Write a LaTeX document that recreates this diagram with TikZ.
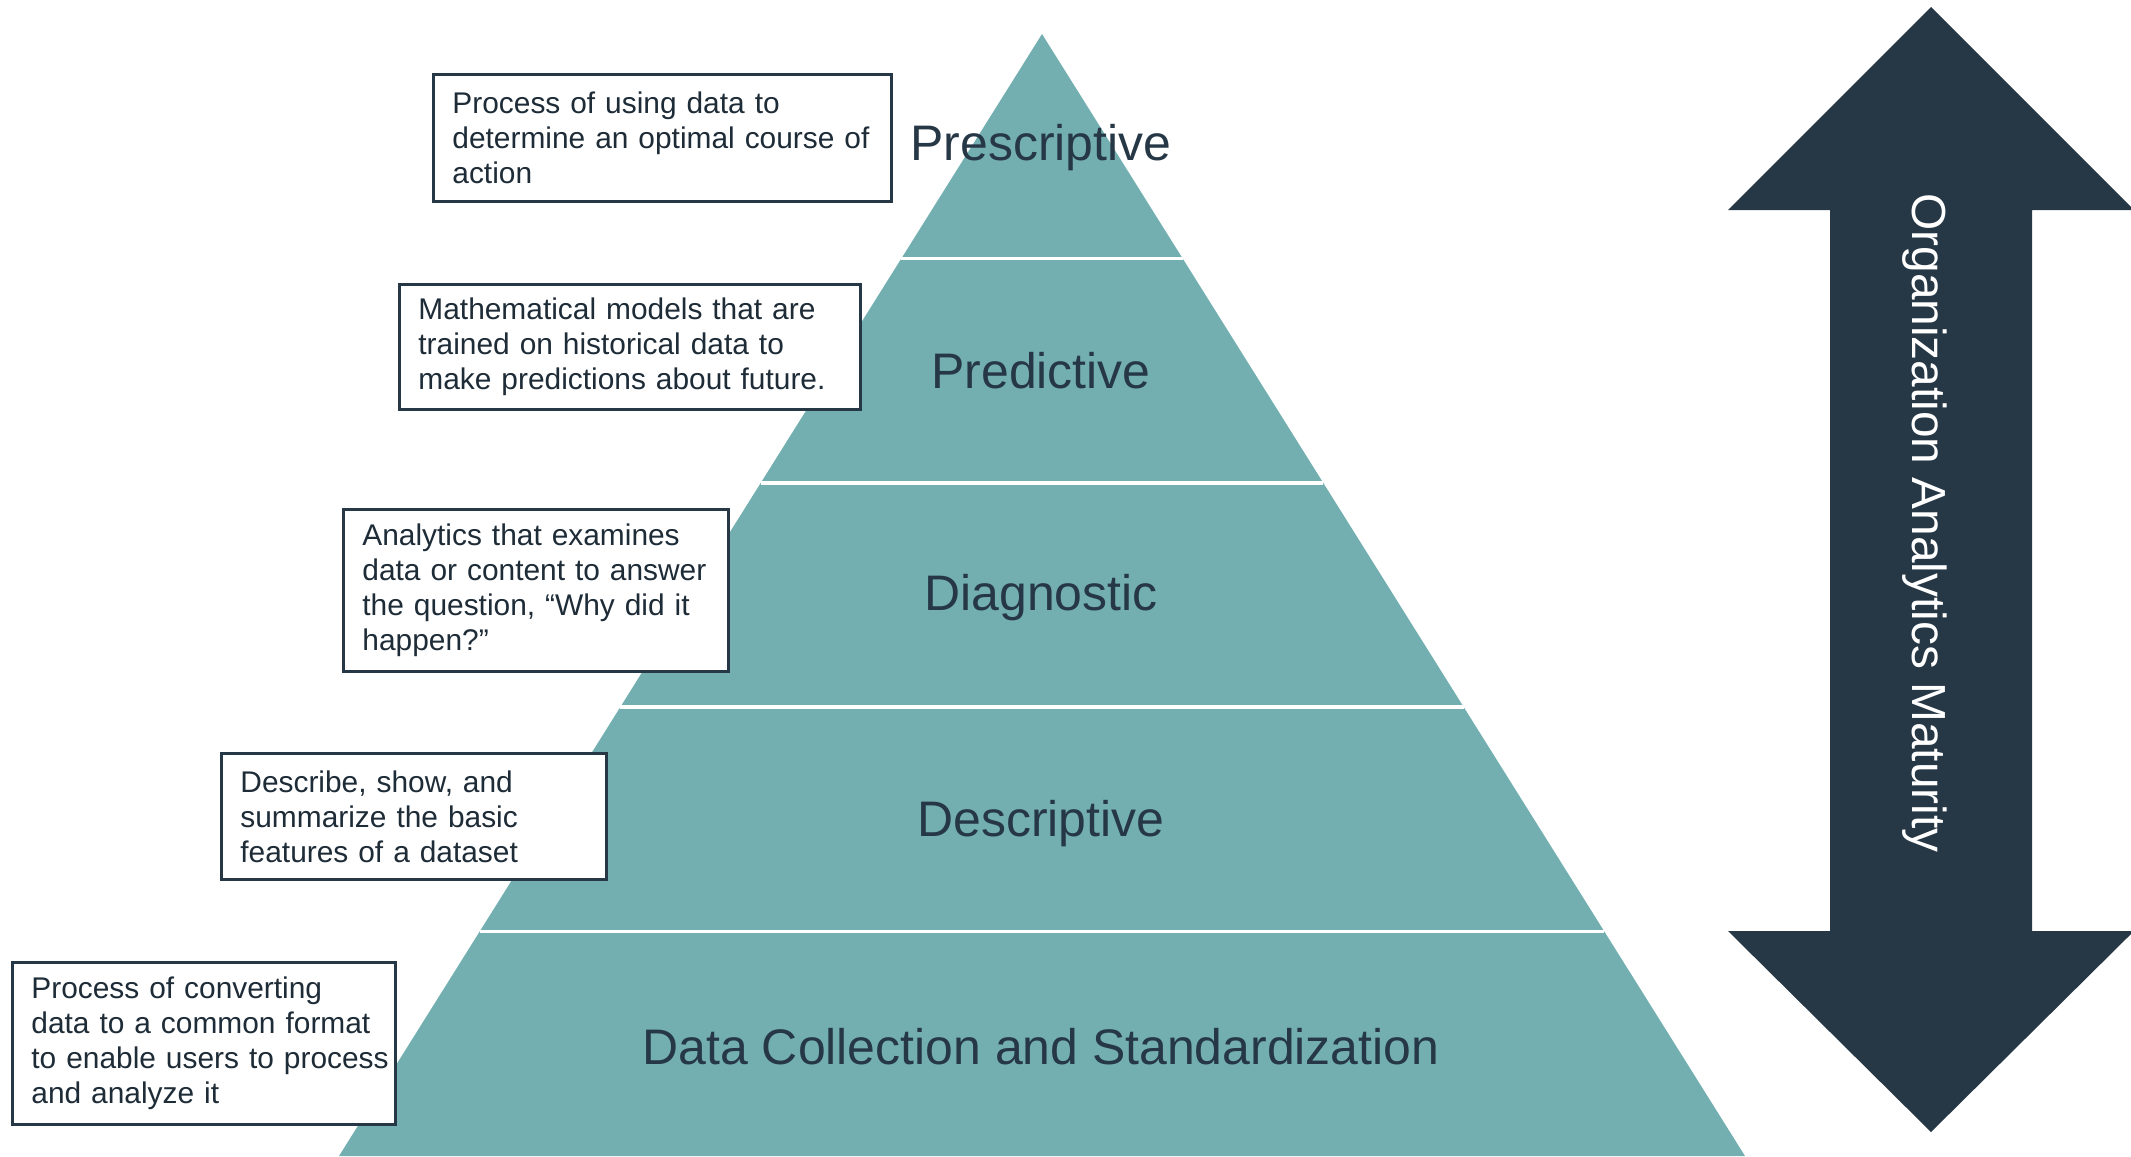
\documentclass[tikz,border=0pt]{standalone}
\usepackage{fontspec}
\setmainfont{Liberation Sans}
\usepackage{xcolor}
\usepackage{tikz}
\usetikzlibrary{positioning, calc}

\definecolor{pyrteal}{HTML}{73AFB1}
\definecolor{navy}{HTML}{263746}
\hyphenpenalty=10000

\begin{document}
\begin{tikzpicture}[
  x=0.01cm, y=-0.01cm,
  tier/.style={font=\fontsize{14.2}{17}\selectfont, text=navy, inner sep=0pt},
  descbox/.style={rectangle, draw=navy, line width=0.8pt, fill=white,
                  anchor=north west, align=left, inner xsep=0.19cm, inner ysep=0pt,
                  font=\fontsize{8.5}{9.96}\selectfont, text=navy!80!black},
  sep/.style={white, line width=1pt},
]
\useasboundingbox (0,0) rectangle (2131,1156);

%% ---- pyramid ----
\coordinate (apex) at (1042,34);
\coordinate (bl) at (339,1156);
\coordinate (br) at (1745,1156);
\fill[pyrteal] (apex) -- (bl) -- (br) -- cycle;
\foreach \f in {0.2,0.4,0.6,0.8}
  \draw[sep] ($(apex)!\f!(bl)$) -- ($(apex)!\f!(br)$);

\node[tier] (lPres) at (1041,148) {Prescriptive};
\node[tier] (lPred) at (1041,371) {Predictive};
\node[tier] (lDiag) at (1041,598) {Diagnostic};
\node[tier] (lDesc) at (1041,824) {Descriptive};
\node[tier] (lData) at (1041,1047) {Data Collection and Standardization};

%% ---- descriptions ----
\node[descbox, text width=4.20cm, minimum height=1.27cm] (dPres) at (432,73)
  {Process of using data to\\determine an optimal course of\\action};
\node[descbox, text width=4.23cm, minimum height=1.25cm] (dPred) at (398,283)
  {Mathematical models that are\\trained on historical data to\\make predictions about future.};
\node[descbox, text width=3.47cm, minimum height=1.62cm] (dDiag) at (342,508)
  {Analytics that examines\\data or content to answer\\the question, “Why did it\\happen?”};
\node[descbox, text width=3.47cm, minimum height=1.26cm] (dDesc) at (220,752)
  {Describe, show, and\\summarize the basic\\features of a dataset};
\node[descbox, text width=3.45cm, minimum height=1.62cm] (dData) at (11,961)
  {Process of converting\\data to a common format\\\mbox{to enable users to process}\\and analyze it};

%% ---- maturity arrow ----
\fill[navy] (1931,7) -- (2134,210) -- (2032,210) -- (2032,931) -- (2134,931)
  -- (1931,1132) -- (1728,931) -- (1830,931) -- (1830,210) -- (1728,210) -- cycle;
\node[rotate=-90, text=white, font=\fontsize{13.6}{16}\selectfont] (maturity)
  at (1925,523) {Organization Analytics Maturity};

\end{tikzpicture}
\end{document}
